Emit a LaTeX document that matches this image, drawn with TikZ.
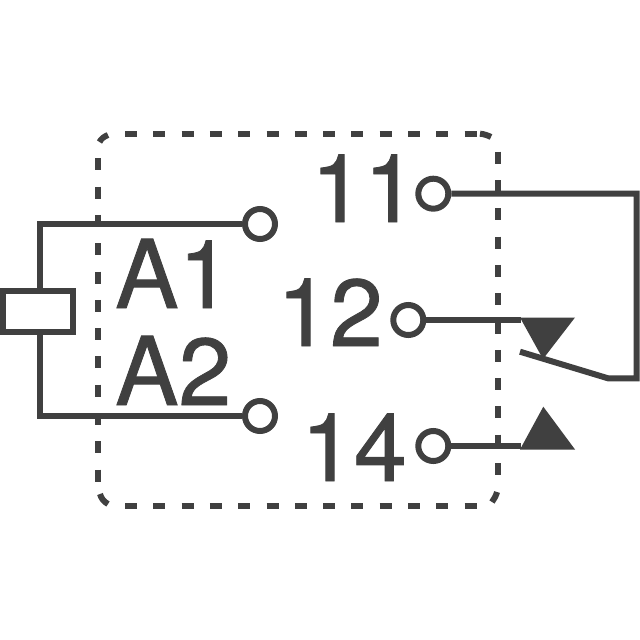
\documentclass[tikz,border=0pt]{standalone}
\usepackage{fontspec}
\setmainfont[RawFeature={embolden=0.9}]{TeX Gyre Heros}
\definecolor{ink}{HTML}{404040}
\tikzset{
  wire/.style={draw=ink,line width=6pt,line cap=butt,line join=miter},
  frameline/.style={draw=ink,line width=6pt,dash pattern=on 12pt off 16.3pt},
  framecorner/.style={draw=ink,line width=6pt},
  terminal/.style={circle,draw=ink,fill=white,line width=6pt,minimum size=30pt,inner sep=0pt},
  coilbox/.style={rectangle,draw=ink,fill=white,line width=6pt,minimum width=70pt,minimum height=41.5pt,inner sep=0pt},
  contact/.style={fill=ink,draw=none},
  pinlabel/.style={anchor=base west,text=ink,inner sep=0pt,font=\fontsize{95}{95}\selectfont}
}
\begin{document}
\begin{tikzpicture}[x=1pt,y=-1pt]
\useasboundingbox (0,0) rectangle (640,640);
\fill[white] (0,0) rectangle (640,640);
% dashed frame
\draw[frameline] (97.5,158.3) -- (97.5,482);
\draw[frameline] (497.7,151.7) -- (497.7,478);
\draw[frameline] (125,133.7) -- (478,133.7);
\draw[frameline] (125,506) -- (478,506);
\draw[framecorner] (99.5,142) .. controls (101,139) and (104,136.5) .. (108,135);
\draw[framecorner] (480,133.7) .. controls (484,134) and (488,135.5) .. (491,137);
\draw[framecorner] (497,492) .. controls (496,496) and (494,499) .. (492,502);
\draw[framecorner] (100,494) .. controls (101,498) and (104,502) .. (108,504);
% labels
\node[pinlabel] (la1) at (115,308) {A1};
\node[pinlabel] (la2) at (115,405) {A2};
\node[pinlabel] (l11) at (311,222) {11};
\node[pinlabel] (l12) at (277,346) {12};
\node[pinlabel] (l14) at (301,481) {14};
% terminals and coil
\node[terminal] (a1) at (260,224) {};
\node[terminal] (a2) at (260,416) {};
\node[terminal] (t11) at (433.3,193.7) {};
\node[terminal] (t12) at (408.3,320) {};
\node[terminal] (t14) at (433.3,446) {};
\node[coilbox] (coil) at (37.5,311.5) {};
\coordinate (c1) at (39.5,224);
\coordinate (c2) at (39.5,416);
\coordinate (r1) at (636.7,193.7);
\coordinate (r2) at (636.7,378.3);
\coordinate (hinge) at (608,378.3);
\coordinate (armtip) at (520,351.7);
\coordinate (nc) at (521,320);
\coordinate (no) at (521,446);
% connectors
\draw[wire] (a1.west) -- (c1) -- (39.5,291);
\draw[wire] (a2.west) -- (c2) -- (39.5,332.5);
\draw[wire] (t11.east) -- (r1) -- (r2) -- (hinge) -- (armtip);
\draw[wire] (t12.east) -- (nc);
\draw[wire] (t14.east) -- (no);
% contacts
\path[contact] (520,317.5) -- (575,317.5) -- (543,359) -- cycle;
\path[contact] (520,449.5) -- (575,449.5) -- (543.3,406.7) -- cycle;
\end{tikzpicture}
\end{document}
